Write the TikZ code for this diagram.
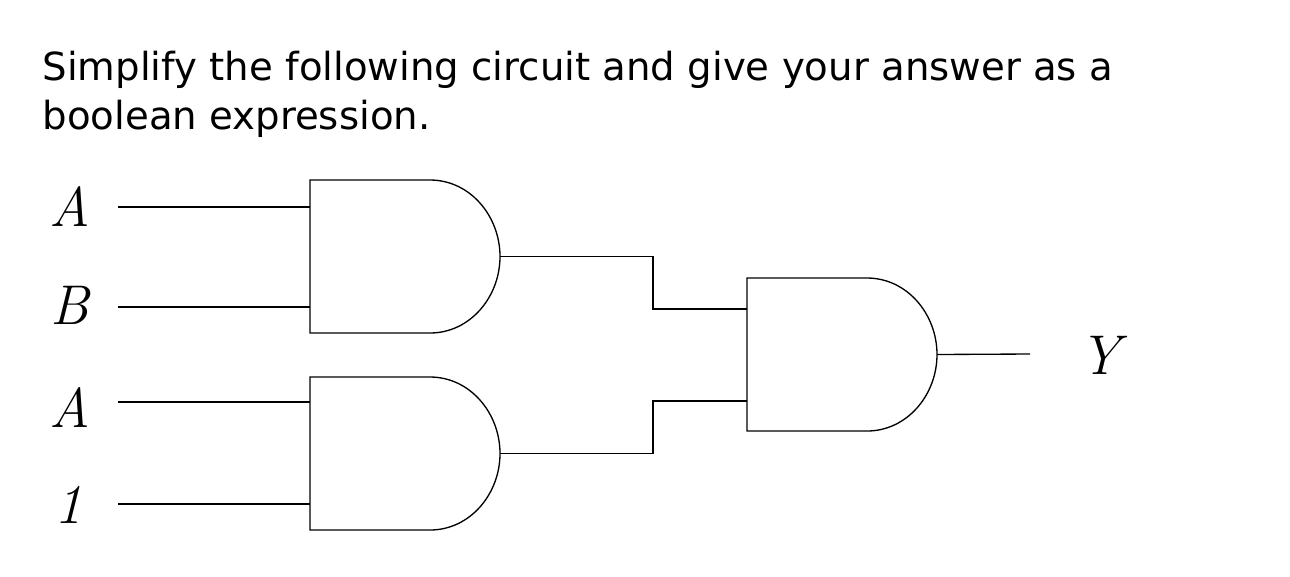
\documentclass[tikz,border=0pt]{standalone}
\usepackage{fontspec}
\setsansfont{DejaVu Sans}
\begin{document}
\begin{tikzpicture}[x=0.75pt,y=-0.75pt,line width=1pt,
  lbl/.style={font=\fontsize{42}{42}\selectfont\itshape,anchor=center}]
\useasboundingbox (0,0) rectangle (1290,576);
\node[anchor=north west,inner sep=0pt,font=\sffamily\fontsize{29}{37}\selectfont,align=left] (title) at (42,50) {Simplify the following circuit and give your answer as a\\boolean expression.};
\tikzset{andgate/.pic={
  \draw (0,0) -- (120,0) .. controls (160,0) and (190,36) .. (190,76.5) .. controls (190,117) and (160,153) .. (120,153) -- (0,153) -- cycle;
  \coordinate (-i1) at (0,27); \coordinate (-i2) at (0,127); \coordinate (-o) at (190,76.5);
}}
\pic (g1) at (310,180) {andgate};
\pic (g2) at (310,377) {andgate};
\pic (g3) at (747,278) {andgate};
\coordinate (g3a) at (747,309); \coordinate (g3b) at (747,401);
\coordinate (g2a) at (310,402); \coordinate (g2b) at (310,504);
\node[lbl] (a1) at (70,207) {A};
\node[lbl] (b) at (70,305) {B};
\node[lbl] (a2) at (70,407) {A};
\node[lbl] (one) at (68,505) {1};
\node[lbl] (y) at (1100,355) {Y};
\coordinate (s1) at (118,207); \coordinate (s2) at (118,307);
\coordinate (s3) at (118,402); \coordinate (s4) at (118,504);
\coordinate (yo) at (1030,354);
\draw (s1) -- (g1-i1); \draw (s2) -- (g1-i2);
\draw (s3) -- (g2a); \draw (s4) -- (g2b);
\draw (g1-o) -- ++(153,0) |- (g3a);
\draw (g2-o) -- ++(153,0) |- (g3b);
\draw (g3-o) -- (yo);
\end{tikzpicture}
\end{document}
